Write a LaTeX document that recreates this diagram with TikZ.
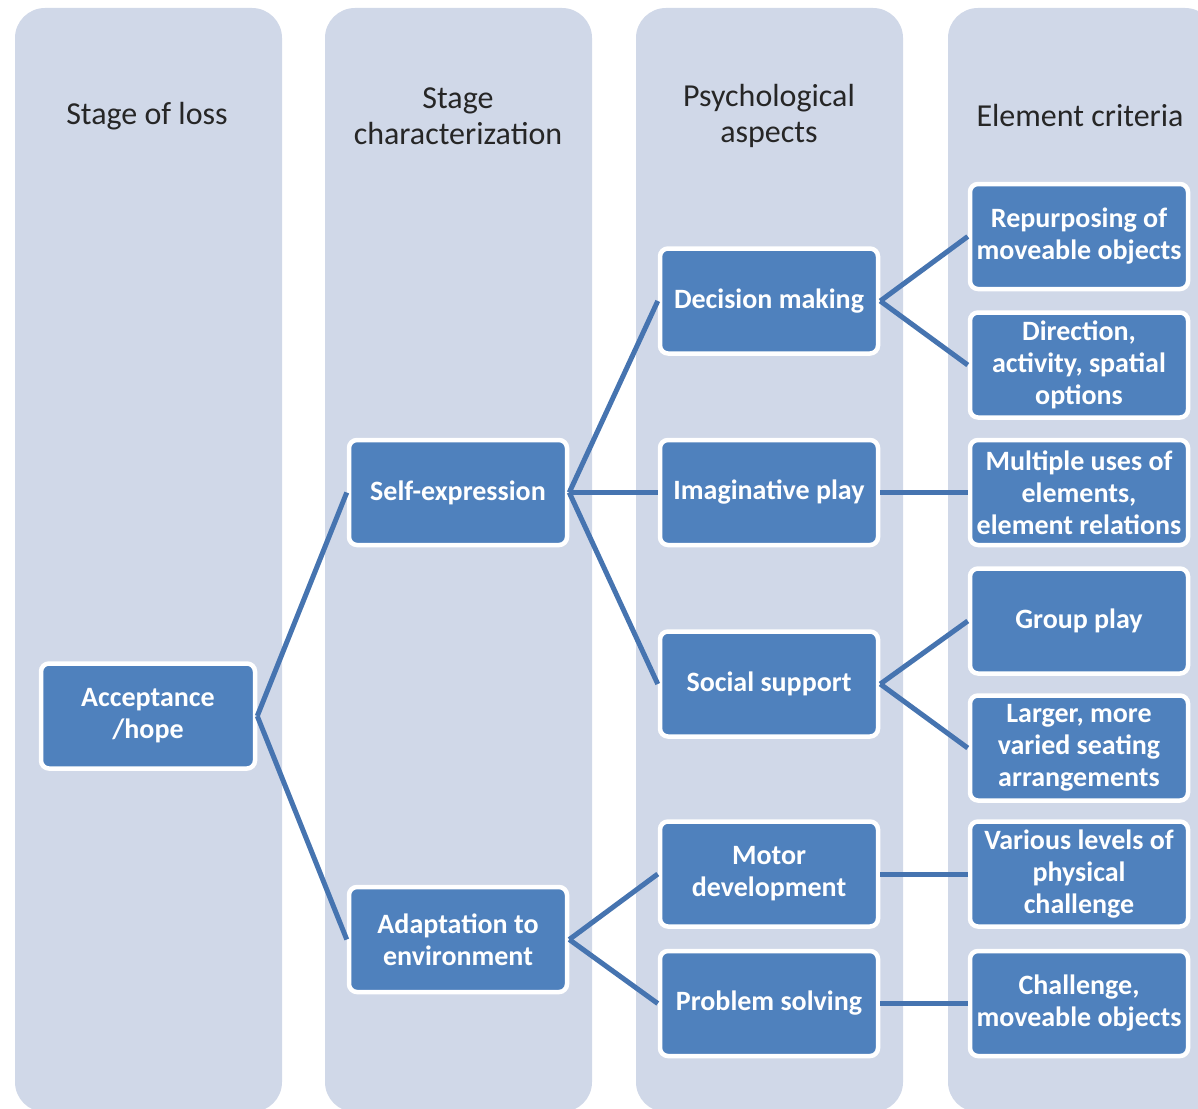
\documentclass[tikz,border=0pt]{standalone}
\usepackage{fontspec}
\setmainfont{Carlito}
\usepackage{xcolor}
\definecolor{colbg}{HTML}{D0D8E8}
\definecolor{boxblue}{HTML}{4F81BD}
\definecolor{linkblue}{HTML}{4674B0}
\definecolor{headgray}{HTML}{262626}

\tikzset{
  column/.style={fill=colbg, rounded corners=30pt},
  head/.style={text=headgray, align=center, font=\fontsize{32}{36}\selectfont},
  box/.style={draw=white, line width=4.5pt, fill=boxblue, rounded corners=8pt,
    text=white, align=center, minimum width=218pt, minimum height=105pt,
    inner sep=2pt, font=\bfseries\fontsize{28}{32}\selectfont},
  link/.style={draw=linkblue, line width=5pt}
}

\begin{document}
\begin{tikzpicture}[x=1pt,y=-1pt]
\useasboundingbox (0,0) rectangle (1198,1108);
\fill[white] (0,0) rectangle (1198,1108);
\foreach \x in {15,325,636,948}
{	\fill[column] (\x,8) rectangle (\x+267,1112);
}
\node[head] (h1) at (147,116) {Stage of loss};
\node[head] (h2) at (458,116) {Stage\\characterization};
\node[head] (h3) at (769,116) {Psychological\\aspects};
\node[head] (h4) at (1080,116) {Element criteria};

\node[box, minimum width=214pt] (accept) at (148,716) {Acceptance\\/hope};
\node[box] (selfexp) at (458,492.5) {Self-expression};
\node[box] (adapt) at (458,939.5) {Adaptation to\\environment};

\node[box] (decision) at (769,301) {Decision making};
\node[box] (imagine) at (769,492.5) {Imaginative play};
\node[box] (social) at (769,684) {Social support};
\node[box] (motor) at (769,874) {Motor\\development};
\node[box] (problem) at (769,1003.5) {Problem solving};

\node[box] (repurp) at (1079,236.5) {Repurposing of\\moveable objects};
\node[box] (direct) at (1079,365) {Direction,\\activity, spatial\\options};
\node[box] (multi) at (1079,492.5) {Multiple uses of\\elements,\\element relations};
\node[box] (group) at (1079,621) {Group play};
\node[box] (larger) at (1079,748) {Larger, more\\varied seating\\arrangements};
\node[box] (various) at (1079,874) {Various levels of\\physical\\challenge};
\node[box] (challenge) at (1079,1003.5) {Challenge,\\moveable objects};

\foreach \a/\b in {accept/selfexp, accept/adapt,
  selfexp/decision, selfexp/imagine, selfexp/social,
  adapt/motor, adapt/problem,
  decision/repurp, decision/direct, imagine/multi,
  social/group, social/larger, motor/various, problem/challenge}
{	\draw[link] (\a.east) -- (\b.west);
}
\end{tikzpicture}
\end{document}
